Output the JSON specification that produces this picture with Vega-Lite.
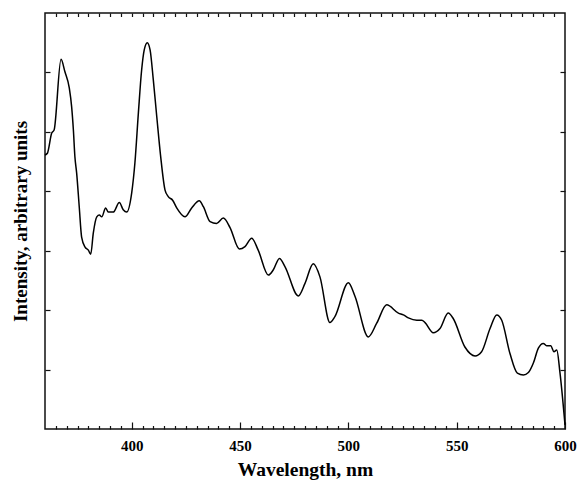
{
  "$schema": "https://vega.github.io/schema/vega-lite/v6.json",
  "width": 520,
  "height": 416,
  "autosize": "none",
  "padding": {"left": 45, "top": 13, "right": 12, "bottom": 51},
  "background": "white",
  "config": {
    "view": {"stroke": "#111111", "strokeWidth": 1.5},
    "font": "Liberation Serif",
    "axis": {"domain": false, "grid": false, "tickColor": "#111111", "tickWidth": 1.2, "labelFont": "Liberation Serif", "titleFont": "Liberation Serif", "labelFontWeight": "bold", "titleFontWeight": "bold", "labelColor": "#000000", "titleColor": "#000000"}
  },
  "data": {"values": [
    {"w": 360.0, "v": 4.61}, {"w": 361.1, "v": 4.64}, {"w": 363.1, "v": 4.98}, {"w": 364.2, "v": 5.03},
    {"w": 367.4, "v": 6.22}, {"w": 369.2, "v": 6.01}, {"w": 371.2, "v": 5.74}, {"w": 372.3, "v": 5.42},
    {"w": 373.1, "v": 5.03}, {"w": 373.8, "v": 4.58}, {"w": 374.6, "v": 4.31}, {"w": 375.8, "v": 3.74},
    {"w": 376.9, "v": 3.23}, {"w": 378.5, "v": 3.06}, {"w": 380.0, "v": 3.01}, {"w": 381.1, "v": 2.94},
    {"w": 382.3, "v": 3.30}, {"w": 383.9, "v": 3.57}, {"w": 385.1, "v": 3.60}, {"w": 386.2, "v": 3.57},
    {"w": 388.0, "v": 3.72}, {"w": 389.2, "v": 3.65}, {"w": 391.5, "v": 3.65}, {"w": 394.3, "v": 3.81},
    {"w": 396.1, "v": 3.69}, {"w": 397.7, "v": 3.65}, {"w": 400.0, "v": 3.97}, {"w": 401.5, "v": 4.48},
    {"w": 403.1, "v": 5.32}, {"w": 404.6, "v": 6.04}, {"w": 405.8, "v": 6.38}, {"w": 407.2, "v": 6.50},
    {"w": 408.5, "v": 6.38}, {"w": 410.0, "v": 5.87}, {"w": 411.6, "v": 5.25}, {"w": 413.4, "v": 4.58},
    {"w": 415.4, "v": 4.02}, {"w": 416.9, "v": 3.91}, {"w": 418.9, "v": 3.85}, {"w": 420.8, "v": 3.72},
    {"w": 424.6, "v": 3.57}, {"w": 427.7, "v": 3.72}, {"w": 431.2, "v": 3.84}, {"w": 433.1, "v": 3.74},
    {"w": 436.2, "v": 3.49}, {"w": 439.2, "v": 3.46}, {"w": 442.3, "v": 3.55}, {"w": 445.4, "v": 3.39},
    {"w": 449.7, "v": 3.03}, {"w": 452.3, "v": 3.07}, {"w": 455.4, "v": 3.21}, {"w": 458.4, "v": 3.01},
    {"w": 463.1, "v": 2.59}, {"w": 465.4, "v": 2.68}, {"w": 468.2, "v": 2.87}, {"w": 470.8, "v": 2.73},
    {"w": 476.9, "v": 2.24}, {"w": 480.0, "v": 2.45}, {"w": 483.8, "v": 2.78}, {"w": 486.9, "v": 2.56},
    {"w": 491.5, "v": 1.79}, {"w": 493.8, "v": 1.89}, {"w": 500.0, "v": 2.46}, {"w": 503.1, "v": 2.23},
    {"w": 509.2, "v": 1.55}, {"w": 513.1, "v": 1.78}, {"w": 517.7, "v": 2.09}, {"w": 523.1, "v": 1.95},
    {"w": 525.4, "v": 1.92}, {"w": 527.7, "v": 1.87}, {"w": 531.6, "v": 1.83}, {"w": 533.9, "v": 1.83},
    {"w": 535.4, "v": 1.79}, {"w": 539.2, "v": 1.62}, {"w": 542.3, "v": 1.69}, {"w": 546.1, "v": 1.95},
    {"w": 548.4, "v": 1.86}, {"w": 553.8, "v": 1.38}, {"w": 558.5, "v": 1.23}, {"w": 561.5, "v": 1.30},
    {"w": 565.4, "v": 1.69}, {"w": 568.5, "v": 1.92}, {"w": 570.8, "v": 1.83}, {"w": 574.6, "v": 1.27},
    {"w": 578.0, "v": 0.94}, {"w": 580.8, "v": 0.91}, {"w": 583.1, "v": 0.95}, {"w": 585.4, "v": 1.11},
    {"w": 587.7, "v": 1.36}, {"w": 590.0, "v": 1.44}, {"w": 591.5, "v": 1.40}, {"w": 593.4, "v": 1.40},
    {"w": 594.9, "v": 1.30}, {"w": 596.2, "v": 1.33}, {"w": 597.7, "v": 0.94}, {"w": 600.0, "v": 0.07}
  ]},
  "resolve": {"axis": {"x": "independent", "y": "independent"}},
  "layer": [
    {
      "mark": {"type": "line", "color": "#000000", "strokeWidth": 1.5, "interpolate": "monotone"},
      "encoding": {
        "x": {"field": "w", "type": "quantitative", "scale": {"domain": [360, 600], "nice": false, "zero": false},
          "axis": {"orient": "bottom", "title": "Wavelength, nm", "titleFontSize": 19.5, "titleY": 40, "titleBaseline": "middle",
            "values": [365,370,375,380,385,390,395,400,405,410,415,420,425,430,435,440,445,450,455,460,465,470,475,480,485,490,495,500,505,510,515,520,525,530,535,540,545,550,555,560,565,570,575,580,585,590,595,600],
            "labelExpr": "datum.value % 50 === 0 ? datum.label : ''",
            "labelFontSize": 15, "labelPadding": 16, "labelFlush": false, "labelOverlap": false,
            "tickSize": {"condition": {"test": "datum.value % 50 === 0", "value": -7}, "value": -3.5}}},
        "y": {"field": "v", "type": "quantitative", "scale": {"domain": [0, 7], "nice": false},
          "axis": {"orient": "left", "title": "Intensity, arbitrary units", "titleFontSize": 19, "titleX": -25, "titleBaseline": "middle",
            "values": [1,2,3,4,5,6], "labels": false, "tickSize": -5}}
      }
    },
    {
      "mark": {"type": "line", "strokeOpacity": 0, "interpolate": "monotone"},
      "encoding": {
        "x": {"field": "w", "type": "quantitative", "scale": {"domain": [360, 600], "nice": false, "zero": false},
          "axis": {"orient": "top", "title": null, "labels": false,
            "values": [365,370,375,380,385,390,395,400,405,410,415,420,425,430,435,440,445,450,455,460,465,470,475,480,485,490,495,500,505,510,515,520,525,530,535,540,545,550,555,560,565,570,575,580,585,590,595],
            "tickSize": -3.5}},
        "y": {"field": "v", "type": "quantitative", "scale": {"domain": [0, 7], "nice": false},
          "axis": {"orient": "right", "title": null, "labels": false, "values": [1,2,3,4,5,6], "tickSize": -5}}
      }
    }
  ]
}
